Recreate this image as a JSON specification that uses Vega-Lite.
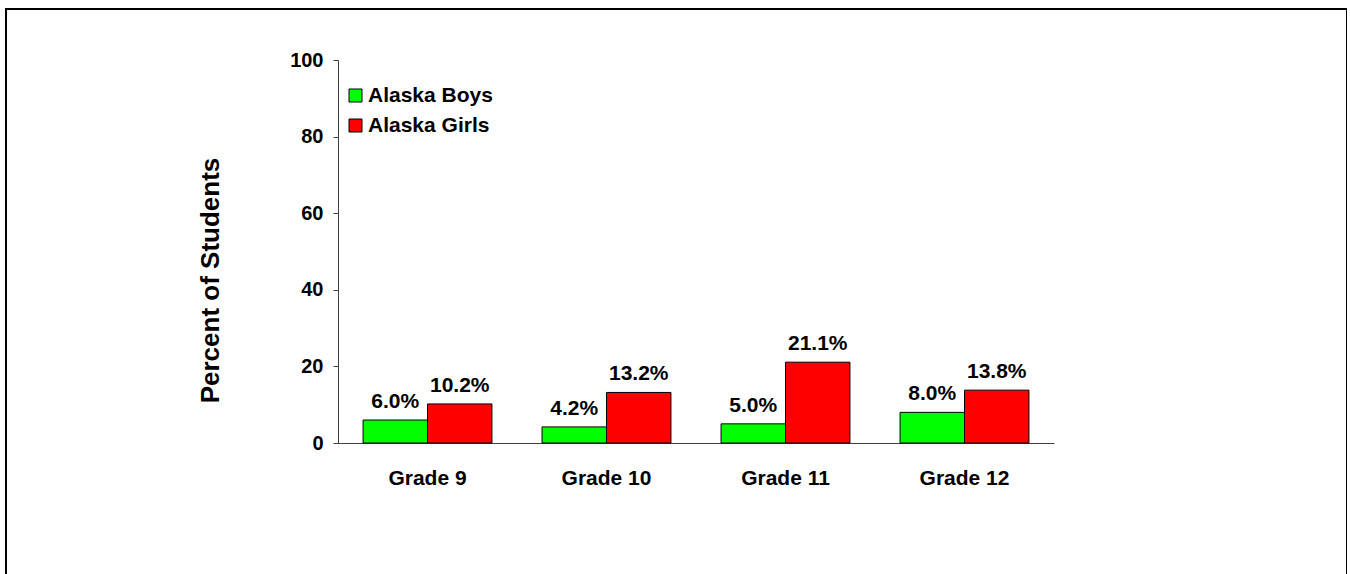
{
  "$schema": "https://vega.github.io/schema/vega-lite/v6.json",
  "width": 1341,
  "height": 600,
  "autosize": {"type": "none"},
  "padding": {"left": 6, "top": 9, "right": 0, "bottom": 0},
  "background": "white",
  "config": {
    "view": {"stroke": "#000000", "strokeWidth": 2},
    "font": "Liberation Sans"
  },
  "data": {
    "values": [
      {"grade": "Grade 9", "group": "Alaska Boys", "percent": 6.0, "label": "6.0%"},
      {"grade": "Grade 9", "group": "Alaska Girls", "percent": 10.2, "label": "10.2%"},
      {"grade": "Grade 10", "group": "Alaska Boys", "percent": 4.2, "label": "4.2%"},
      {"grade": "Grade 10", "group": "Alaska Girls", "percent": 13.2, "label": "13.2%"},
      {"grade": "Grade 11", "group": "Alaska Boys", "percent": 5.0, "label": "5.0%"},
      {"grade": "Grade 11", "group": "Alaska Girls", "percent": 21.1, "label": "21.1%"},
      {"grade": "Grade 12", "group": "Alaska Boys", "percent": 8.0, "label": "8.0%"},
      {"grade": "Grade 12", "group": "Alaska Girls", "percent": 13.8, "label": "13.8%"}
    ]
  },
  "encoding": {
    "x": {
      "field": "grade",
      "type": "nominal",
      "sort": ["Grade 9", "Grade 10", "Grade 11", "Grade 12"],
      "scale": {"range": [332, 1048], "paddingInner": 0.28, "paddingOuter": 0.14},
      "axis": {
        "orient": "bottom",
        "offset": -166,
        "title": null,
        "ticks": false,
        "labelAngle": 0,
        "labelFontSize": 21,
        "labelFontWeight": "bold",
        "labelColor": "#000000",
        "labelPadding": 24,
        "domainColor": "#404040",
        "domainWidth": 1
      }
    },
    "xOffset": {
      "field": "group",
      "type": "nominal",
      "sort": ["Alaska Boys", "Alaska Girls"],
      "scale": {"paddingInner": 0, "paddingOuter": 0}
    },
    "y": {
      "field": "percent",
      "type": "quantitative",
      "scale": {"domain": [0, 100], "range": [434, 51], "nice": false},
      "axis": {
        "orient": "left",
        "offset": -332,
        "grid": false,
        "values": [0, 20, 40, 60, 80, 100],
        "tickSize": 5,
        "tickColor": "#404040",
        "domainColor": "#404040",
        "labelFontSize": 20,
        "labelFontWeight": "bold",
        "labelColor": "#000000",
        "labelPadding": 10,
        "title": "Percent of Students",
        "titleFontSize": 26,
        "titleFontWeight": "bold",
        "titleColor": "#000000",
        "titleAngle": -90,
        "titleX": -120,
        "titleY": 271,
        "titleAlign": "center",
        "titleBaseline": "alphabetic"
      }
    }
  },
  "layer": [
    {
      "mark": {"type": "bar", "stroke": "#000000", "strokeWidth": 1},
      "encoding": {
        "color": {
          "field": "group",
          "type": "nominal",
          "scale": {"domain": ["Alaska Boys", "Alaska Girls"], "range": ["#00ff00", "#ff0000"]},
          "legend": {
            "orient": "none",
            "legendX": 339,
            "legendY": 76,
            "title": null,
            "padding": 0,
            "symbolType": "square",
            "symbolSize": 169,
            "symbolStrokeColor": "#000000",
            "symbolStrokeWidth": 1,
            "labelFontSize": 21,
            "labelFontWeight": "bold",
            "labelColor": "#000000",
            "labelOffset": 2,
            "rowPadding": 8
          }
        }
      }
    },
    {
      "mark": {
        "type": "text",
        "dy": -12,
        "baseline": "alphabetic",
        "fontSize": 21,
        "fontWeight": "bold",
        "color": "#000000"
      },
      "encoding": {"text": {"field": "label"}}
    }
  ]
}
